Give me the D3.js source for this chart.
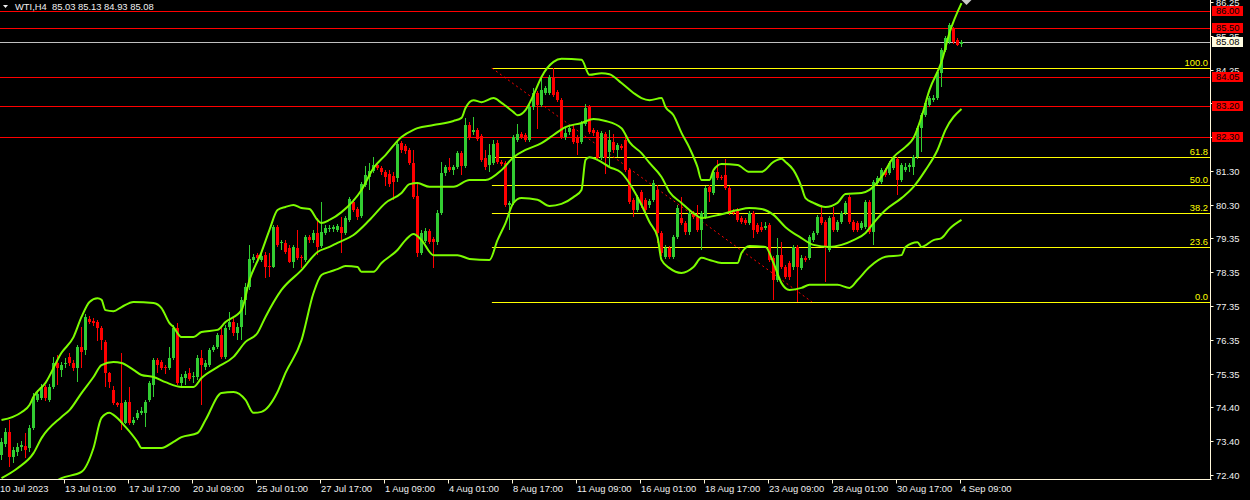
<!DOCTYPE html>
<html><head><meta charset="utf-8">
<script src="https://cdn.jsdelivr.net/npm/d3@7"></script>
<style>body{margin:0;background:#000;overflow:hidden}svg{display:block}text{font-family:"Liberation Sans",Arial,sans-serif}</style>
</head><body>
<script>
const opens=[72.99,73.31,73.66,72.92,73.07,73.22,73.25,73.19,73.78,74.60,
74.66,74.98,74.60,74.98,75.68,75.48,75.65,75.86,75.68,75.54,
76.15,76.06,76.97,76.91,76.88,76.71,76.30,75.39,74.89,74.51,
74.51,73.92,74.54,73.92,74.07,74.22,74.22,74.60,75.04,75.77,
75.71,75.57,75.54,75.83,76.71,75.10,75.24,75.39,75.27,75.27,
75.83,75.57,75.62,76.06,76.15,76.50,75.86,76.73,76.88,76.56,
76.73,77.53,77.91,78.70,78.84,78.70,78.84,78.52,78.49,79.66,
79.19,79.19,79.05,78.64,79.05,78.79,78.70,79.37,79.28,79.49,
79.11,79.49,79.61,79.61,79.58,79.66,79.49,79.87,80.40,80.19,
79.99,80.89,81.13,81.30,81.48,81.39,81.28,81.22,81.16,81.10,
82.12,82.04,81.92,81.54,80.57,78.90,79.25,79.55,79.31,79.22,
80.07,81.25,81.42,81.33,81.42,81.83,81.45,82.65,82.45,82.51,
82.33,81.68,81.48,81.54,82.12,81.57,81.54,80.31,80.37,82.21,
82.39,82.36,82.21,83.18,83.59,83.24,83.59,83.59,84.06,83.62,
83.38,82.30,82.45,82.53,82.30,82.15,82.68,83.18,82.51,82.45,
81.68,82.39,81.86,82.15,81.92,82.04,82.21,81.33,80.46,80.16,
80.69,80.46,80.31,80.46,80.75,79.49,78.79,79.05,78.79,79.37,
79.93,79.78,79.52,80.07,79.96,79.58,79.96,80.84,80.66,81.28,
81.13,81.19,80.81,80.13,80.16,79.93,79.87,79.78,80.07,79.72,
79.66,79.63,79.72,78.76,78.11,78.84,78.49,78.61,78.49,79.08,
78.46,78.76,78.76,79.28,79.49,79.96,79.81,78.99,79.96,79.58,
79.81,80.07,80.54,79.81,79.78,79.63,79.66,80.40,79.52,80.95,
80.98,81.33,81.25,81.39,81.66,81.04,81.33,81.42,81.42,81.71,
82.56,82.94,83.24,83.38,83.44,84.17,84.85,85.08,85.49,85.14,
85.03];
const highs=[73.49,73.78,74.01,73.22,73.34,73.40,73.63,73.87,74.80,74.89,
75.07,75.04,75.07,75.86,75.92,75.71,75.83,75.98,75.77,76.21,
76.73,77.12,77.06,77.00,76.94,76.76,76.35,75.42,75.01,74.54,
75.98,74.60,74.98,74.10,74.30,74.39,74.60,75.15,75.83,75.83,
75.77,75.62,76.15,76.79,76.85,75.36,75.45,75.54,75.42,75.92,
76.06,75.77,76.12,76.21,76.56,76.73,76.79,77.17,77.00,76.85,
77.61,78.02,79.14,78.87,78.90,78.90,78.93,78.90,79.72,79.72,
79.28,79.28,79.14,79.14,79.58,78.84,79.43,79.43,79.58,79.93,
80.40,79.72,79.72,79.72,79.75,79.96,79.99,80.54,80.48,80.25,
80.98,81.45,81.54,81.71,81.54,81.45,81.33,81.33,81.28,82.15,
82.18,82.10,81.98,81.92,80.95,79.58,79.63,79.61,79.37,80.16,
81.57,81.48,81.68,81.48,81.89,81.89,82.86,82.74,82.89,82.56,
82.39,81.92,82.10,82.21,82.21,81.63,81.60,80.43,82.36,82.68,
82.45,82.42,83.24,83.74,83.65,84.03,83.79,84.12,84.32,83.68,
83.44,82.59,82.65,82.65,82.36,82.77,83.27,83.24,82.56,82.51,
82.48,82.45,82.51,82.39,82.12,82.10,82.33,81.39,80.51,80.60,
80.75,80.51,80.48,81.04,80.89,79.55,79.14,79.11,79.43,80.31,
80.54,79.84,80.13,80.13,80.31,80.13,80.86,80.89,81.33,81.63,
81.19,81.66,80.86,80.19,80.22,79.99,79.93,80.13,80.13,79.78,
79.81,79.81,79.78,78.81,79.34,79.22,78.55,78.67,79.14,79.14,
78.84,78.81,79.43,79.55,80.02,80.31,79.87,79.99,80.25,79.87,
80.13,80.43,80.60,79.87,79.84,79.84,80.46,80.46,81.04,81.16,
81.39,81.39,81.60,81.74,81.71,81.54,81.54,81.54,81.77,82.62,
83.00,83.35,83.50,83.53,84.26,84.91,85.26,85.64,85.52,85.20,
85.13];
const lows=[72.84,73.22,72.63,72.75,72.96,73.10,72.90,73.07,73.72,74.54,
74.60,74.57,74.54,74.92,75.04,75.27,75.54,75.59,75.45,75.12,
75.54,75.92,76.82,76.76,76.32,76.06,74.98,74.95,74.45,74.39,
73.72,73.89,73.87,73.87,74.01,74.16,73.81,74.54,74.69,75.39,
75.48,75.36,75.48,75.77,75.04,74.95,75.04,75.15,75.10,75.18,
74.45,75.48,75.57,76.00,76.09,75.80,75.80,76.65,76.47,76.35,
76.35,77.09,77.82,78.61,78.64,78.64,78.17,78.20,78.46,79.08,
78.99,78.87,78.61,78.46,78.70,78.46,78.64,79.19,79.19,78.84,
79.05,79.43,79.52,79.52,79.52,78.90,79.43,79.81,80.10,79.87,
79.93,80.84,80.75,81.25,81.33,81.19,80.86,80.84,80.46,80.98,
81.83,81.80,81.48,80.48,78.79,78.84,79.19,79.17,78.46,79.14,
80.02,81.16,81.28,81.19,81.36,81.19,81.39,82.21,82.36,82.18,
81.57,81.33,81.28,81.48,81.51,81.45,80.25,79.58,80.31,82.15,
82.24,82.15,82.15,83.09,82.53,83.18,83.53,83.53,83.47,83.33,
82.24,82.21,82.36,82.10,81.77,82.10,82.62,82.39,82.33,81.63,
81.63,81.22,81.45,81.83,81.71,81.92,81.28,80.34,79.96,80.10,
80.22,80.10,80.22,80.40,79.19,78.81,78.73,78.73,78.73,79.31,
79.72,79.43,79.43,79.90,79.52,78.99,79.90,80.40,80.60,81.04,
81.04,80.75,80.02,80.02,79.81,79.75,79.72,79.72,79.34,79.46,
79.52,79.58,78.64,77.53,78.05,78.43,78.14,78.11,78.40,77.47,
78.40,78.64,78.70,79.22,79.43,79.72,78.05,78.93,79.52,79.52,
79.75,80.02,79.75,79.52,79.52,79.58,79.61,79.46,79.14,80.89,
80.92,81.13,81.19,81.33,80.60,80.98,81.28,81.28,81.19,81.66,
81.86,82.89,83.18,83.33,83.38,83.76,84.79,85.02,85.02,84.96,
84.93];
const closes=[73.37,73.66,72.92,73.13,73.22,73.28,73.13,73.78,74.69,74.77,
74.98,74.66,74.98,75.68,75.54,75.62,75.68,75.68,75.54,76.15,
76.00,77.03,76.88,76.85,76.71,76.35,75.39,75.12,74.51,74.45,
73.92,74.54,73.92,74.01,74.22,74.28,74.54,75.10,75.77,75.62,
75.54,75.54,75.83,76.71,75.10,75.27,75.36,75.21,75.30,75.83,
75.62,75.68,76.06,76.15,76.50,75.86,76.71,76.88,76.56,76.73,
77.53,77.91,78.73,78.79,78.76,78.81,78.49,78.49,79.66,79.14,
79.22,78.93,78.64,79.08,78.76,78.76,79.37,79.28,79.49,79.08,
79.52,79.63,79.63,79.66,79.69,79.49,79.93,80.48,80.16,79.96,
80.92,81.19,81.30,81.48,81.39,81.28,81.13,80.92,80.98,82.10,
81.92,81.89,81.54,80.54,78.90,79.49,79.55,79.22,79.22,80.07,
81.25,81.42,81.33,81.42,81.83,81.45,82.65,82.27,82.51,82.24,
81.63,81.42,81.77,82.10,81.57,81.51,80.31,80.37,82.30,82.39,
82.30,82.21,83.18,83.59,83.24,83.68,83.74,84.06,83.53,83.38,
82.30,82.42,82.56,82.15,82.12,82.71,83.15,82.45,82.42,81.68,
82.42,81.68,82.21,81.92,82.07,81.98,81.33,80.40,80.16,80.54,
80.31,80.16,80.43,80.95,79.49,78.90,79.05,78.79,79.37,80.22,
79.78,79.52,80.07,79.96,79.58,80.07,80.81,80.69,81.28,81.10,
81.10,80.81,80.07,80.07,79.87,79.81,79.78,80.07,79.58,79.52,
79.58,79.69,78.70,78.11,78.84,78.49,78.20,78.20,79.08,78.49,
78.76,78.70,79.37,79.49,79.96,79.78,79.05,79.93,79.58,79.81,
80.07,80.37,79.81,79.58,79.58,79.78,80.40,79.52,80.98,81.10,
81.33,81.19,81.54,81.68,81.04,81.48,81.42,81.48,81.71,82.56,
82.94,83.30,83.44,83.44,84.20,84.85,85.20,85.58,85.08,84.99,
85.08];

// Bollinger band readings: [bar index, price]
const upperBand=[[0,74.01],[5,74.24],[7,74.45],[8,74.69],[11,75.10],[15,75.98],[18,76.44],[20,77.03],[22,77.47],[24,77.58],[25,77.53],[26,77.23],[28,77.20],[30,77.32],[33,77.47],[38,77.44],[40,77.29],[42,76.85],[43,76.73],[45,76.44],[48,76.44],[50,76.59],[54,76.65],[56,76.88],[60,77.23],[62,78.11],[65,78.93],[67,79.58],[69,80.16],[71,80.25],[73,80.31],[75,80.22],[77,80.19],[79,79.87],[80,79.78],[82,79.87],[85,80.10],[90,80.75],[93,81.39],[96,81.77],[100,82.30],[103,82.51],[104,82.56],[108,82.65],[113,82.77],[115,82.86],[116,83.15],[118,83.38],[120,83.32],[123,83.44],[125,83.30],[128,83.03],[129,82.94],[131,83.09],[133,83.53],[135,84.06],[138,84.50],[140,84.59],[145,84.56],[147,84.12],[150,84.17],[152,84.14],[155,83.88],[158,83.59],[160,83.44],[162,83.38],[165,83.44],[166,83.18],[168,82.94],[170,82.42],[172,81.98],[174,81.42],[175,81.04],[177,81.04],[178,81.33],[180,81.51],[184,81.48],[187,81.28],[190,81.28],[193,81.57],[195,81.66],[196,81.57],[198,81.33],[200,80.84],[201,80.51],[203,80.37],[206,80.25],[209,80.37],[211,80.63],[215,80.66],[217,80.75],[220,81.13],[223,81.71],[226,82.01],[228,82.27],[230,82.89],[232,83.68],[235,84.50],[237,85.35],[240,86.22]];
const middleBand=[[0,72.31],[4,72.60],[8,73.04],[10,73.48],[15,74.10],[17,74.30],[20,74.80],[23,75.27],[25,75.62],[28,75.71],[30,75.68],[33,75.48],[35,75.33],[38,75.27],[41,75.12],[45,74.98],[48,74.98],[50,75.24],[54,75.56],[58,75.86],[61,76.30],[64,76.56],[66,77.03],[70,77.82],[75,78.40],[79,78.93],[82,79.08],[84,79.20],[88,79.43],[92,79.87],[96,80.37],[100,80.66],[102,80.92],[104,80.95],[107,80.84],[113,80.84],[117,81.04],[121,81.04],[125,81.33],[128,81.71],[131,81.92],[135,82.12],[138,82.36],[141,82.59],[145,82.71],[148,82.83],[151,82.77],[155,82.56],[157,82.15],[160,81.83],[162,81.54],[165,81.13],[167,80.69],[170,80.37],[173,80.07],[175,79.93],[180,80.04],[184,80.16],[187,80.22],[190,80.19],[193,80.02],[196,79.66],[200,79.34],[203,79.14],[207,79.08],[210,79.14],[213,79.28],[216,79.49],[218,79.78],[221,80.16],[225,80.51],[228,80.84],[231,81.33],[234,81.92],[236,82.51],[240,83.12]];
const lowerBand=[[0,70.61],[10,71.96],[15,72.31],[20,72.49],[23,73.19],[25,74.07],[27,74.22],[28,74.16],[31,73.81],[34,73.37],[35,73.19],[40,73.19],[43,73.37],[45,73.51],[49,73.63],[51,74.01],[55,74.80],[58,74.83],[61,74.60],[63,74.22],[65,74.25],[69,74.83],[71,75.39],[75,76.35],[78,77.73],[80,78.26],[82,78.35],[84,78.43],[86,78.52],[89,78.49],[90,78.35],[93,78.35],[95,78.61],[99,78.99],[101,79.28],[103,79.46],[105,79.28],[108,78.84],[114,78.84],[117,78.73],[122,78.70],[124,79.28],[126,79.78],[128,80.37],[130,80.51],[134,80.46],[137,80.28],[140,80.34],[143,80.54],[145,80.75],[146,81.63],[147,81.71],[149,81.63],[152,81.42],[155,81.25],[158,80.75],[160,80.31],[162,79.81],[164,79.37],[165,78.70],[167,78.46],[170,78.32],[173,78.49],[175,78.76],[177,78.70],[180,78.61],[184,78.61],[185,78.90],[187,79.11],[191,79.08],[193,78.61],[195,78.02],[197,77.82],[200,77.88],[202,77.97],[209,77.97],[212,77.88],[214,78.11],[217,78.49],[221,78.79],[225,78.84],[226,79.08],[229,79.22],[230,79.08],[233,79.28],[235,79.34],[237,79.61],[240,79.87]];

const xTickLabels=["10 Jul 2023","13 Jul 01:00","17 Jul 17:00","20 Jul 09:00","25 Jul 01:00","27 Jul 17:00","1 Aug 09:00","4 Aug 01:00","8 Aug 17:00","11 Aug 09:00","16 Aug 01:00","18 Aug 17:00","23 Aug 09:00","28 Aug 01:00","30 Aug 17:00","4 Sep 09:00"];
const xTickIndex=[0,16,32,48,64,80,96,112,128,144,160,176,192,208,224,240];
const yTickLabels=["86.25","85.25","84.25","83.30","82.30","81.30","80.30","79.35","78.35","77.35","76.35","75.35","74.40","73.40","72.40"];
const redLevels=[86.00,85.50,84.05,83.20,82.30];
const bidPrice=85.08;
const fibLevels=[0,23.6,38.2,50.0,61.8,100.0];
const fibFrom={index:122.6,price:84.32};
const fibTo={index:202.6,price:77.47};
const title="WTI,H4  85.03 85.13 84.93 85.08";

const W=1250,H=500,plotR=1210.5,plotB=479.5;
const n=opens.length;
const svg=d3.select("body").append("svg").attr("width",W).attr("height",H).style("background","#000");
const y=d3.scaleLinear().domain([72.283,86.313]).range([479,0]);
const xb=d3.scaleBand().domain(d3.range(n)).range([0,4*(n-0.25)]).paddingInner(0.25).paddingOuter(0);
const xc=d3.scaleLinear().domain([0,n-1]).range([1.5,1.5+4*(n-1)]);

svg.append("defs").append("clipPath").attr("id","plot").append("rect").attr("x",0).attr("y",0).attr("width",plotR).attr("height",plotB);
const g=svg.append("g").attr("clip-path","url(#plot)");

// horizontal red levels
g.selectAll("line.red").data(redLevels).join("line")
 .attr("x1",0).attr("x2",plotR).attr("y1",d=>Math.round(y(d))+0.5).attr("y2",d=>Math.round(y(d))+0.5)
 .attr("stroke","#ff0000").attr("stroke-width",1);
// bid line
g.append("line").attr("x1",0).attr("x2",plotR).attr("y1",Math.round(y(bidPrice))+0.5).attr("y2",Math.round(y(bidPrice))+0.5)
 .attr("stroke","#c0c0c0").attr("stroke-width",1);

// fibonacci
const fibPrice=l=>fibTo.price+(fibFrom.price-fibTo.price)*l/100;
g.selectAll("line.fib").data(fibLevels).join("line")
 .attr("x1",xc(fibFrom.index)).attr("x2",plotR)
 .attr("y1",d=>Math.round(y(fibPrice(d)))+0.5).attr("y2",d=>Math.round(y(fibPrice(d)))+0.5)
 .attr("stroke","#ffff00").attr("stroke-width",1);
g.selectAll("text.fib").data(fibLevels).join("text")
 .attr("x",1208).attr("y",d=>Math.round(y(fibPrice(d)))-2)
 .attr("text-anchor","end").attr("font-size","9.4px").attr("fill","#ffff00")
 .text(d=>d.toFixed(1));
g.append("line").attr("x1",xc(fibFrom.index)).attr("y1",y(fibFrom.price)).attr("x2",xc(fibTo.index)).attr("y2",y(fibTo.price))
 .attr("stroke","#ff0000").attr("stroke-width",1).attr("stroke-dasharray","2,3");

// candles
const bars=d3.range(n).map(i=>({i,o:opens[i],h:highs[i],l:lows[i],c:closes[i]}));
const col=d=>d.c>=d.o?"#32cd32":"#ff0000";
const cg=g.append("g").attr("shape-rendering","crispEdges");
cg.selectAll("rect.wick").data(bars).join("rect").attr("class","wick")
 .attr("x",d=>xb(d.i)+1).attr("width",1)
 .attr("y",d=>y(d.h)).attr("height",d=>Math.max(1,y(d.l)-y(d.h))).attr("fill",col);
cg.selectAll("rect.body").data(bars).join("rect").attr("class","body")
 .attr("x",d=>xb(d.i)).attr("width",xb.bandwidth())
 .attr("y",d=>y(Math.max(d.o,d.c))).attr("height",d=>Math.max(1,Math.abs(y(d.o)-y(d.c)))).attr("fill",col);

// bands
const line=d3.line().x(d=>xc(d[0])).y(d=>y(d[1])).curve(d3.curveMonotoneX);
[upperBand,middleBand,lowerBand].forEach(b=>{
  g.append("path").attr("d",line(b)).attr("fill","none").attr("stroke","#7cfc00").attr("stroke-width",2);
});

// gray arrow marker at top
const ax=xc(n-1)+5, ay=y(86.313);
svg.append("path").attr("d",`M${ax-5},${ay} L${ax+5},${ay} L${ax},${ay+5} Z`).attr("fill","#c8c8c8");

// axes frame
const axisCol="#fff8dc";
svg.append("line").attr("x1",plotR).attr("x2",plotR).attr("y1",0).attr("y2",plotB).attr("stroke",axisCol);
svg.append("line").attr("x1",0).attr("x2",plotR+1).attr("y1",plotB).attr("y2",plotB).attr("stroke",axisCol);

// y ticks
yTickLabels.forEach(t=>{
  const yy=Math.round(y(+t))+0.5;
  svg.append("line").attr("x1",plotR).attr("x2",plotR+3).attr("y1",yy).attr("y2",yy).attr("stroke",axisCol);
  svg.append("text").attr("x",1216).attr("y",yy).attr("dy","0.35em").attr("font-size","9.4px").attr("fill","#f0f0f0").text(t);
});
// x ticks
xTickIndex.forEach((idx,k)=>{
  const xx=xb(idx)+0.5;
  if(k>0) svg.append("line").attr("x1",xx).attr("x2",xx).attr("y1",plotB).attr("y2",plotB+4).attr("stroke",axisCol);
  svg.append("text").attr("x",k>0?xx+0.5:0).attr("y",492).attr("font-size","9.4px").attr("fill","#f0f0f0").text(xTickLabels[k]);
});

// price boxes
redLevels.forEach(p=>{
  const yy=Math.round(y(p));
  svg.append("rect").attr("x",1212).attr("y",yy-5).attr("width",31).attr("height",10).attr("fill","#ff0000");
  svg.append("text").attr("x",1216).attr("y",yy).attr("dy","0.35em").attr("font-size","9.4px").attr("fill","#000").text(p.toFixed(2));
});
{
  const yy=Math.round(y(bidPrice));
  svg.append("rect").attr("x",1212).attr("y",yy-5).attr("width",31).attr("height",10).attr("fill","#fffbe0");
  svg.append("text").attr("x",1216).attr("y",yy).attr("dy","0.35em").attr("font-size","9.4px").attr("fill","#000").text(bidPrice.toFixed(2));
}

// title
svg.append("path").attr("d","M3,5 L8,5 L5.5,8 Z").attr("fill","#f0f0f0");
svg.append("text").attr("x",15).attr("y",10).attr("font-size","9.4px").attr("fill","#f0f0f0").style("white-space","pre").text(title);
</script>
</body></html>
